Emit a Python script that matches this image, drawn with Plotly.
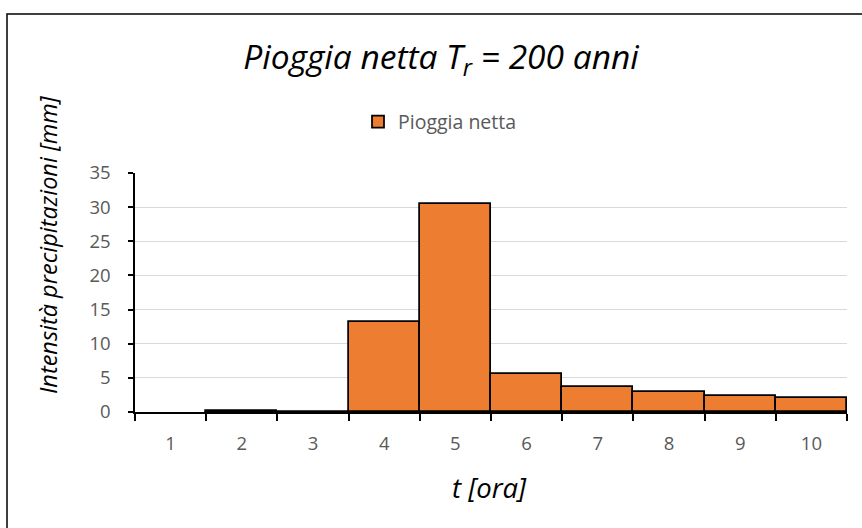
import plotly.graph_objects as go

categories = ["1", "2", "3", "4", "5", "6", "7", "8", "9", "10"]
pioggia_netta = [0, 0.2, 0.05, 13.2, 30.5, 5.6, 3.7, 2.9, 2.4, 2.0]
y_ticks = [0, 5, 10, 15, 20, 25, 30, 35]

FONT = "Open Sans"
GRAY = "#595959"
ORANGE = "#ED7D31"

fig = go.Figure()
fig.add_trace(go.Bar(
    x=categories, y=pioggia_netta, name="Pioggia netta", showlegend=False,
    marker=dict(color=ORANGE,
                line=dict(color="black",
                          width=[0 if v == 0 else 1.75 for v in pioggia_netta])),
))
# legend entry (no data)
fig.add_trace(go.Bar(
    x=[None], y=[None], name="Pioggia netta", showlegend=True,
    marker=dict(color=ORANGE, line=dict(color="black", width=1.75)),
))

fig.update_layout(
    width=862, height=528,
    margin=dict(l=135, r=15, t=173, b=116),
    paper_bgcolor="white", plot_bgcolor="white",
    bargap=0, barmode="overlay",
    font=dict(family=FONT, color=GRAY, size=18),
    title=dict(text="Pioggia netta T<sub>r</sub> = 200 anni",
               font=dict(family=FONT, size=33.5, color="black", style="italic"),
               x=441/862, xanchor="center", xref="container",
               y=1-57/528, yanchor="middle", yref="container"),
    showlegend=True,
    legend=dict(orientation="h", x=(358-135)/712, xanchor="left",
                y=(412-122)/239, yanchor="middle",
                font=dict(family=FONT, size=19.5, color=GRAY), bgcolor="rgba(0,0,0,0)"),
    xaxis=dict(type="category", categoryorder="array", categoryarray=categories,
               tickson="boundaries", ticks="outside", ticklen=7,
               tickcolor="black", tickwidth=1.5, showline=True, linecolor="black",
               linewidth=1.5, showgrid=False, ticklabelstandoff=14,
               tickfont=dict(family=FONT, size=18.5, color=GRAY)),
    yaxis=dict(range=[0, 35], tickvals=y_ticks, ticks="outside", ticklen=5,
               tickcolor="black", tickwidth=1.5, showline=True, linecolor="black",
               linewidth=1.5, showgrid=True, gridcolor="#D9D9D9", gridwidth=1,
               zeroline=False, ticklabelstandoff=14,
               tickfont=dict(family=FONT, size=18.5, color=GRAY)),
)

fig.add_annotation(text="Intensità precipitazioni [mm]", textangle=-90,
                   xref="paper", yref="paper", x=(48-135)/712, y=(412-245)/239,
                   xanchor="center", yanchor="middle", showarrow=False,
                   font=dict(family=FONT, size=23.5, color="black", style="italic"))
fig.add_annotation(text="t [ora]", xref="paper", yref="paper",
                   x=(489-135)/712, y=(412-487)/239, xanchor="center", yanchor="middle",
                   showarrow=False,
                   font=dict(family=FONT, size=27.5, color="black", style="italic"))

fig.add_shape(type="rect", xref="paper", yref="paper",
              x0=(7-135)/712, x1=1.2, y0=-0.8, y1=(412-14)/239,
              line=dict(color="black", width=1.5), fillcolor="rgba(0,0,0,0)", layer="below")

fig.write_html("out.html")
